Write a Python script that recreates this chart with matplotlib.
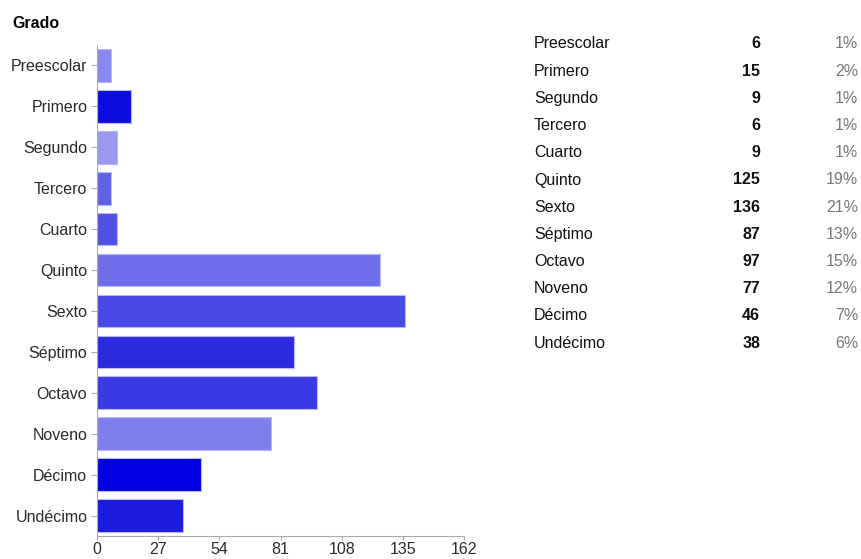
import numpy as np
import matplotlib.pyplot as plt

plt.rcParams['font.family'] = ['Liberation Sans', 'DejaVu Sans']

# data
grados = ['Preescolar', 'Primero', 'Segundo', 'Tercero', 'Cuarto', 'Quinto',
          'Sexto', 'Séptimo', 'Octavo', 'Noveno', 'Décimo', 'Undécimo']
conteo = [6, 15, 9, 6, 9, 125, 136, 87, 97, 77, 46, 38]
porcentaje = ['1%', '2%', '1%', '1%', '1%', '19%', '21%', '13%', '15%', '12%', '7%', '6%']
colores = ['#8888ee', '#0c0ce0', '#9999f0', '#6262e8', '#5050e2', '#6e6eea',
           '#4848e4', '#2a2ae0', '#3a3ae4', '#7e7eec', '#0000e0', '#1c1ce0']
xticks = [0, 27, 54, 81, 108, 135, 162]

fig = plt.figure(figsize=(8.61, 5.59), dpi=100)
ax = fig.add_axes([97 / 861, 23 / 559, 367 / 861, 491 / 559])

y = np.arange(len(grados))
ax.barh(y, conteo, height=0.8, color=colores, edgecolor='#b8b8f4', linewidth=0.8)

ax.set_ylim(len(grados) - 0.5, -0.5)
ax.set_xlim(0, 162)
ax.set_yticks(y)
ax.set_yticklabels(grados)
ax.set_xticks(xticks)

for s in ['top', 'right']:
    ax.spines[s].set_visible(False)
for s in ['left', 'bottom']:
    ax.spines[s].set_color('#aaaaaa')
ax.tick_params(axis='both', colors='#aaaaaa', labelcolor='#2a2a2a',
               labelsize=11.5, length=4)
ax.tick_params(axis='y', pad=3)
ax.tick_params(axis='x', length=3, pad=1)

# titulo
fig.text(12 / 861, 1 - 24 / 559, 'Grado', fontsize=11.5, fontweight='bold',
         va='center', ha='left')

# tabla a la derecha
for i, (g, c, p) in enumerate(zip(grados, conteo, porcentaje)):
    yy = 1 - (44 + i * 27.2) / 559
    fig.text(534 / 861, yy, g, fontsize=11.5, color='#111111', va='center', ha='left')
    fig.text(760 / 861, yy, str(c), fontsize=11.5, fontweight='bold',
             color='#111111', va='center', ha='right')
    fig.text(858 / 861, yy, p, fontsize=11.5, color='#777777', va='center', ha='right')

fig.savefig('out.png', dpi=100)
